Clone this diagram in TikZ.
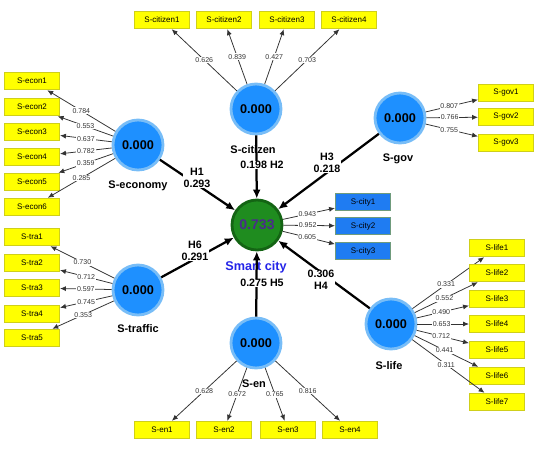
\documentclass[tikz,border=0pt]{standalone}
\usepackage{fontspec}
\setmainfont{Liberation Sans}
\usetikzlibrary{arrows.meta, positioning}
\definecolor{cblue}{HTML}{1E90FF}
\definecolor{cring}{HTML}{78BDF7}
\definecolor{cgreen}{HTML}{1F8C1F}
\definecolor{cdgreen}{HTML}{146414}
\definecolor{cyellow}{HTML}{FFFF00}
\definecolor{cyborder}{HTML}{CFCF1A}
\definecolor{ccity}{HTML}{1F7CF2}
\definecolor{ccborder}{HTML}{6F9B7C}
\definecolor{cpurple}{HTML}{4A2C8A}
\definecolor{cname}{HTML}{2424E8}
\definecolor{cgrey}{HTML}{333333}
\tikzset{
  every picture/.style={x=0.025cm, y=-0.025cm},
  latent/.style={circle, fill=#1, draw=cring, line width=2pt, minimum size=1.25cm, inner sep=0pt, font=\fontsize{9}{10}\selectfont\bfseries},
  latent/.default=cblue,
  ind/.style={rectangle, fill=cyellow, draw=cyborder, line width=0.6pt, minimum width=1.38cm, minimum height=0.44cm, inner sep=0pt, font=\fontsize{5.7}{6}\selectfont},
  load/.style={-{Latex[length=4.2pt, width=3.6pt]}, draw=cgrey, line width=0.55pt},
  effect/.style={-{Latex[length=6.4pt, width=5.6pt]}, line width=1.6pt},
  lval/.style={fill=white, inner sep=0.6pt, font=\fontsize{5}{5}\selectfont, text=cgrey},
  pval/.style={fill=white, inner sep=0.5pt, align=center, font=\fontsize{7.6}{8.4}\selectfont\bfseries},
  lvname/.style={font=\fontsize{7.8}{9}\selectfont\bfseries},
}
\begin{document}
\begin{tikzpicture}
  \useasboundingbox (0,0) rectangle (540,448);

  % latent variables
  \node[latent=cgreen, draw=cdgreen, text=cpurple, font=\fontsize{10}{11}\selectfont\bfseries] (city) at (257,225) {0.733};
  \node[latent] (econ)    at (138,145) {0.000};
  \node[latent] (citizen) at (256,109) {0.000};
  \node[latent] (gov)     at (400,118) {0.000};
  \node[latent] (traffic) at (138,290) {0.000};
  \node[latent] (en)      at (256,343) {0.000};
  \node[latent] (life)    at (391,324) {0.000};

  \node[lvname] (econ-n)    at (138,186) {S-economy};
  \node[lvname] (citizen-n) at (253,150) {S-citizen};
  \node[lvname] (gov-n)     at (398,159) {S-gov};
  \node[lvname] (traffic-n) at (138,329) {S-traffic};
  \node[lvname] (en-n)      at (254,384) {S-en};
  \node[lvname] (life-n)    at (389,366) {S-life};
  \node[lvname, text=cname, font=\fontsize{9}{10}\selectfont\bfseries] (city-n) at (256,267) {Smart city};

  % indicators
  \foreach \i/\y/\val in {1/81/0.784, 2/107/0.553, 3/132/0.637, 4/157/0.782, 5/182/0.359, 6/207/0.285} {
    \node[ind] (econ\i) at (32,\y) {S-econ\i};
    \draw[load] (econ) -- node[lval] (econl\i) {\val} (econ\i);
  }
  \foreach \i/\x/\val in {1/162/0.626, 2/224/0.839, 3/287/0.427, 4/349/0.703} {
    \node[ind] (citizen\i) at (\x,20) {S-citizen\i};
    \draw[load] (citizen) -- node[lval] (citizenl\i) {\val} (citizen\i);
  }
  \foreach \i/\y/\val in {1/93/0.807, 2/117/0.766, 3/143/0.755} {
    \node[ind] (gov\i) at (506,\y) {S-gov\i};
    \draw[load] (gov) -- node[lval, pos=.45] (govl\i) {\val} (gov\i);
  }
  \foreach \i/\y/\val in {1/202/0.943, 2/226/0.952, 3/251/0.605} {
    \node[ind, fill=ccity, draw=ccborder] (city\i) at (363,\y) {S-city\i};
    \draw[load] (city) -- node[lval, pos=.47] (cityl\i) {\val} (city\i);
  }
  \foreach \i/\y/\val in {1/237/0.730, 2/263/0.712, 3/288/0.597, 4/314/0.745, 5/338/0.353} {
    \node[ind] (traffic\i) at (32,\y) {S-tra\i};
    \draw[load] (traffic) -- node[lval] (trafficl\i) {\val} (traffic\i);
  }
  \foreach \i/\x/\val in {1/162/0.628, 2/224/0.672, 3/288/0.765, 4/350/0.816} {
    \node[ind] (en\i) at (\x,430) {S-en\i};
    \draw[load] (en) -- node[lval] (enl\i) {\val} (en\i);
  }
  \foreach \i/\y/\val in {1/248/0.331, 2/273/0.552, 3/299/0.490, 4/324/0.653, 5/350/0.712, 6/376/0.441, 7/402/0.311} {
    \node[ind] (life\i) at (497,\y) {S-life\i};
    \draw[load] (life) -- node[lval, pos=.47] (lifel\i) {\val} (life\i);
  }

  % paths to smart city
  \foreach \s in {econ, citizen, gov, traffic, en, life} \draw[effect] (\s) -- (city);
  \node[pval] (h1) at (197,178) {H1\\0.293};
  \node[pval] (h2) at (262,165) {0.198 H2};
  \node[pval] (h3) at (327,163) {H3\\0.218};
  \node[pval] (h4) at (321,280) {0.306\\H4};
  \node[pval] (h5) at (262,283) {0.275 H5};
  \node[pval] (h6) at (195,251) {H6\\0.291};
\end{tikzpicture}
\end{document}
